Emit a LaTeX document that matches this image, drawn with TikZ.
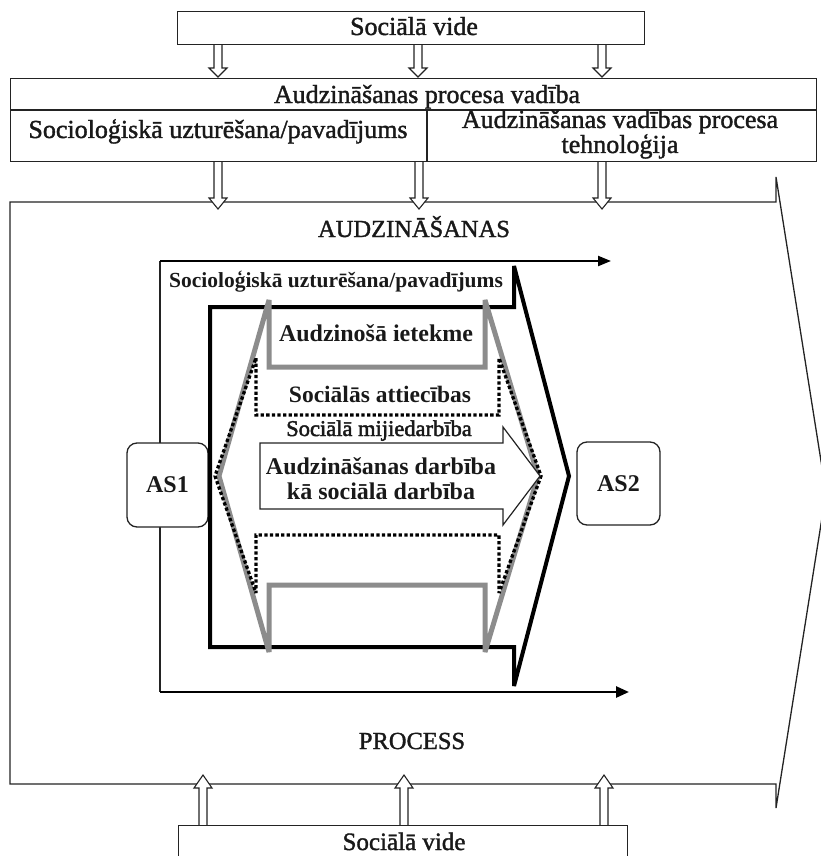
\documentclass[tikz,border=0pt]{standalone}
\usepackage{fontspec}
\setmainfont{Liberation Serif}
\newfontfamily\medfont[FakeBold=1.4]{Liberation Serif}
\newfontfamily\semifont[FakeBold=2]{Liberation Serif}
\usetikzlibrary{arrows.meta,calc}
\definecolor{fline}{RGB}{35,35,35}
\definecolor{gline}{RGB}{140,140,140}
\definecolor{txt}{RGB}{25,25,25}
\newcommand{\hollowarr}[3]{%
  \filldraw[hollow] let \p1=(#1), \p2=(#2) in
   (\x1-4pt,\y1) -- (\x1-4pt,\y2#3) -- (\x1-9pt,\y2#3) -- (\x2,\y2)
   -- (\x1+9pt,\y2#3) -- (\x1+4pt,\y2#3) -- (\x1+4pt,\y1);}
\begin{document}
\begin{tikzpicture}[x=1pt,y=-1pt,line join=miter,miter limit=4,
  bigframe/.style={draw=fline,line width=1.3pt},
  box/.style={draw=fline,line width=1.3pt,fill=white,inner sep=0pt,anchor=north west},
  hollow/.style={draw=fline,line width=1.1pt,fill=white},
  lbl/.style={inner sep=0pt,anchor=base,text=txt},
  fbig/.style={font=\fontsize{26pt}{30pt}\medfont},
  fcap/.style={font=\fontsize{24.5pt}{28pt}\medfont},
  fbold/.style={font=\fontsize{24pt}{28pt}\selectfont\bfseries},
  asbox/.style={draw=fline,line width=1.3pt,fill=white,rounded corners=10pt,
    inner sep=0pt,text=txt,font=\fontsize{24pt}{28pt}\selectfont\bfseries},
  axisline/.style={draw=black,line width=2.2pt}]
\useasboundingbox (0,0) rectangle (820,856);

% outer process frame (big arrow)
\draw[bigframe] (10,202) -- (776,202) -- (776,177) -- (826,492.5)
  -- (776,808) -- (776,784) -- (10,784) -- cycle;

% hollow arrows
\foreach \k/\xx in {1/218,2/418,3/602}{
  \coordinate (ua\k) at (\xx,44); \coordinate (ub\k) at (\xx,77);
  \hollowarr{ua\k}{ub\k}{+9pt}
}
\foreach \k/\xx in {1/218,2/419,3/602}{
  \coordinate (ma\k) at (\xx,161); \coordinate (mb\k) at (\xx,209);
  \hollowarr{ma\k}{mb\k}{+11pt}
}
\foreach \k/\xx in {1/203,2/404,3/604}{
  \coordinate (ba\k) at (\xx,825); \coordinate (bb\k) at (\xx,775);
  \hollowarr{ba\k}{bb\k}{-13pt}
}

% boxes
\node[box,minimum width=467pt,minimum height=33pt] (envtop) at (177,11) {};
\node[box,minimum width=806pt,minimum height=83pt] (mgmt) at (10,78) {};
\draw[bigframe] (10,110) -- (816,110);
\draw[bigframe] (427,110) -- (427,161);
\node[box,minimum width=449pt,minimum height=50pt] (envbot) at (178,825) {};

% process axes
\coordinate (axc) at (160,261);
\coordinate (axr) at (611,261);
\coordinate (axb) at (160,692);
\coordinate (axe) at (629,692);
\draw[draw=fline,line width=1.4pt] (axc) -- (axb);
\draw[axisline,-{Triangle[length=13pt,width=10pt]}] (axc) -- (axr);
\draw[axisline,line width=2.6pt,-{Triangle[length=13pt,width=11pt]}] (axb) -- (axe);

% AS boxes
\node[asbox,minimum width=81pt,minimum height=84pt] (as1) at (167.5,485) {AS1};
\node[asbox,minimum width=83pt,minimum height=83pt] (as2) at (618.5,483.5) {AS2};

% black thick arrow outline
\draw[line width=4pt] (210,307) -- (514,307) -- (514,266) -- (569,476)
  -- (514,686) -- (514,647) -- (210,647) -- cycle;

% gray outline
\draw[gline,line width=5pt] (269,300) -- (269,367) -- (485,367) -- (485,300)
  -- (538,476) -- (485,652) -- (485,585) -- (269,585) -- (269,652)
  -- (219,476) -- cycle;

% dotted outline
\draw[line width=3.3pt,dash pattern=on 3.3pt off 2.3pt] (256,358) -- (256,415)
  -- (499,415) -- (499,358) -- (541,476) -- (499,593) -- (499,535)
  -- (256,535) -- (256,593) -- (215,476) -- cycle;

% white block arrow
\filldraw[fill=white,draw=fline,line width=1.2pt] (260,443) -- (503,443)
  -- (503,427) -- (540,476) -- (503,525) -- (503,509) -- (260,509) -- cycle;

% texts
\node[lbl,fbig] (tenv1) at (414,35) {Sociālā vide};
\node[lbl,fbig] (tmgmt) at (427,103) {Audzināšanas procesa vadība};
\node[lbl,fbig] (tsoc1) at (218,138) {Socioloģiskā uzturēšana/pavadījums};
\node[lbl,fbig] (ttech1) at (620,128) {Audzināšanas vadības procesa};
\node[lbl,fbig] (ttech2) at (620,153) {tehnoloģija};
\node[lbl,fcap] (taud) at (414,237) {AUDZINĀŠANAS};
\node[lbl,fcap] (tproc) at (412,749) {PROCESS};
\node[lbl,font=\fontsize{21.5pt}{24pt}\selectfont\bfseries] (tsoc2) at (336,287) {Socioloģiskā uzturēšana/pavadījums};
\node[lbl,fbold] (tiet) at (376,341) {Audzinošā ietekme};
\node[lbl,font=\fontsize{23.5pt}{27pt}\selectfont\bfseries] (tatt) at (380,402) {Sociālās attiecības};
\node[lbl,font=\fontsize{22.5pt}{26pt}\semifont] (tmij) at (379,436) {Sociālā mijiedarbība};
\node[lbl,fbold] (tdarb1) at (381,474) {Audzināšanas darbība};
\node[lbl,fbold] (tdarb2) at (381,499) {kā sociālā darbība};
\node[lbl,font=\fontsize{25pt}{29pt}\medfont] (tenv2) at (404,850) {Sociālā vide};
\end{tikzpicture}
\end{document}
